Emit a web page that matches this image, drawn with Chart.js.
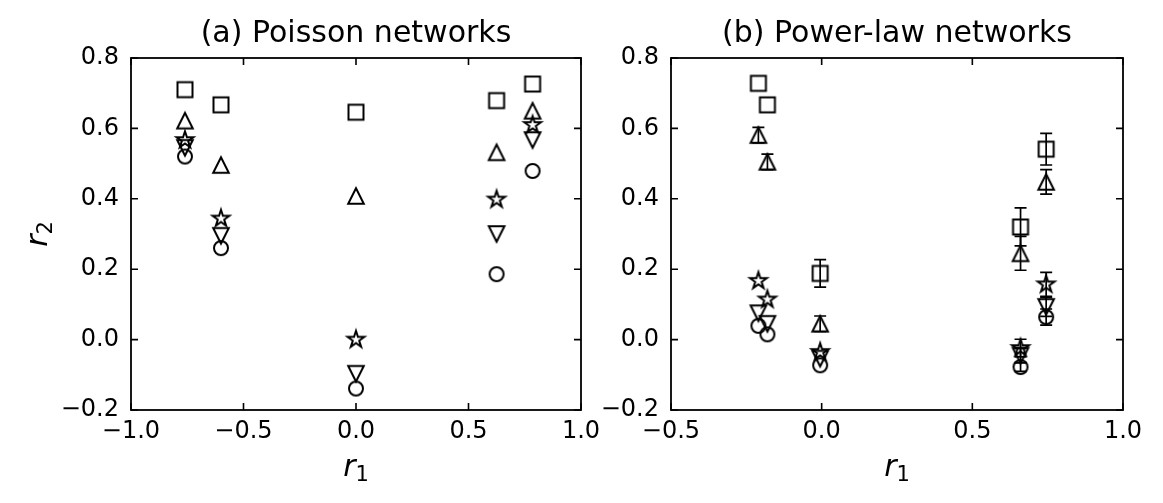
<!DOCTYPE html>
<html>
<head>
<meta charset="utf-8">
<script src="https://cdn.jsdelivr.net/npm/chart.js@4"></script>
<style>
  html, body { margin: 0; padding: 0; background: #fff; }
  body { width: 1163px; height: 503px; position: relative; overflow: hidden; }
  canvas { position: absolute; top: 0; }
  #chartA { left: 0; }
  #chartB { left: 560px; }
</style>
</head>
<body>
<canvas id="chartA" width="611" height="503"></canvas>
<canvas id="chartB" width="593" height="503"></canvas>
<script>
// (a) Poisson networks
const poissonR1 = [-0.76, -0.60, 0.0, 0.625, 0.785];
const poissonSquare = [0.71, 0.667, 0.646, 0.679, 0.726];
const poissonTriUp = [0.622, 0.496, 0.408, 0.532, 0.65];
const poissonStar = [0.567, 0.344, 0.0, 0.398, 0.61];
const poissonTriDown = [0.545, 0.295, -0.097, 0.30, 0.567];
const poissonCircle = [0.52, 0.26, -0.139, 0.186, 0.479];

// (b) Power-law networks
const powerR1 = [-0.21, -0.18, -0.005, 0.66, 0.745];
const powerSquare = [0.728, 0.667, 0.188, 0.32, 0.541];
const powerTriUp = [0.581, 0.505, 0.045, 0.245, 0.448];
const powerStar = [0.167, 0.114, -0.035, -0.024, 0.157];
const powerTriDown = [0.075, 0.045, -0.054, -0.045, 0.093];
const powerCircle = [0.039, 0.015, -0.073, -0.078, 0.064];

// error bar half-widths (power-law panel only)
const powerSquareErr = [0, 0, 0.039, 0.054, 0.045];
const powerTriUpErr = [0.022, 0.022, 0.022, 0.048, 0.035];
const powerStarErr = [0, 0, 0, 0.025, 0.034];
const powerTriDownErr = [0, 0, 0, 0.02, 0.027];
const powerCircleErr = [0, 0, 0, 0.012, 0.023];

const xTicksA = [-1.0, -0.5, 0.0, 0.5, 1.0];
const xTicksB = [-0.5, 0.0, 0.5, 1.0];
const yTicks = [-0.2, 0.0, 0.2, 0.4, 0.6, 0.8];

const FONT = "'DejaVu Sans', sans-serif";

// marker images drawn like matplotlib's unfilled markers
function makeMarker(kind) {
  const c = document.createElement("canvas");
  c.width = 26;
  c.height = 26;
  const ctx = c.getContext("2d");
  ctx.strokeStyle = "#000";
  ctx.lineWidth = 2;
  ctx.lineJoin = "miter";
  ctx.translate(13, 13);
  ctx.beginPath();
  if (kind === "square") {
    ctx.rect(-7.5, -7.5, 15, 15);
  } else if (kind === "circle") {
    ctx.arc(0, 0, 7, 0, Math.PI * 2);
  } else if (kind === "triUp") {
    ctx.moveTo(0, -7.8);
    ctx.lineTo(-7.8, 7.8);
    ctx.lineTo(7.8, 7.8);
    ctx.closePath();
  } else if (kind === "triDown") {
    ctx.moveTo(0, 7.8);
    ctx.lineTo(-7.8, -7.8);
    ctx.lineTo(7.8, -7.8);
    ctx.closePath();
  } else if (kind === "star") {
    const R = 8.8, r = R * 0.381966;
    for (let i = 0; i < 10; i++) {
      const a = -Math.PI / 2 + i * Math.PI / 5;
      const rad = i % 2 === 0 ? R : r;
      const px = rad * Math.cos(a), py = rad * Math.sin(a);
      if (i === 0) ctx.moveTo(px, py); else ctx.lineTo(px, py);
    }
    ctx.closePath();
  }
  ctx.stroke();
  return c;
}

const markers = {
  square: makeMarker("square"),
  triUp: makeMarker("triUp"),
  star: makeMarker("star"),
  triDown: makeMarker("triDown"),
  circle: makeMarker("circle"),
};

function fmtTick(v) {
  if (Math.abs(v) < 1e-9) v = 0;
  return v.toFixed(1).replace("-", "\u2212");
}

function series(xs, ys, kind) {
  return {
    data: xs.map((x, i) => ({ x: x, y: ys[i] })),
    pointStyle: markers[kind],
    pointRadius: 8,
    showLine: false,
  };
}

// box, inward ticks, error bars, titles and axis labels
const decor = {
  id: "decor",
  afterDatasetsDraw(chart, args, opts) {
    const { ctx } = chart;
    const xs = chart.scales.x, ys = chart.scales.y;
    (opts.errors || []).forEach((errs, di) => {
      const pts = chart.data.datasets[di].data;
      ctx.save();
      ctx.strokeStyle = "#000";
      ctx.lineWidth = 1.7;
      pts.forEach((p, i) => {
        const e = errs[i];
        if (!e) return;
        const px = xs.getPixelForValue(p.x);
        const y1 = ys.getPixelForValue(p.y + e);
        const y2 = ys.getPixelForValue(p.y - e);
        ctx.beginPath();
        ctx.moveTo(px, y1);
        ctx.lineTo(px, y2);
        ctx.moveTo(px - 6, y1);
        ctx.lineTo(px + 6, y1);
        ctx.moveTo(px - 6, y2);
        ctx.lineTo(px + 6, y2);
        ctx.stroke();
      });
      ctx.restore();
    });
  },
  afterDraw(chart, args, opts) {
    const { ctx, chartArea: a } = chart;
    const xs = chart.scales.x, ys = chart.scales.y;
    ctx.save();
    ctx.strokeStyle = "#000";
    ctx.lineWidth = 1.8;
    ctx.strokeRect(a.left, a.top, a.right - a.left, a.bottom - a.top);
    ctx.lineWidth = 1.6;
    ctx.beginPath();
    xs.ticks.forEach((t) => {
      const px = xs.getPixelForValue(t.value);
      ctx.moveTo(px, a.bottom);
      ctx.lineTo(px, a.bottom - 7);
      ctx.moveTo(px, a.top);
      ctx.lineTo(px, a.top + 7);
    });
    ys.ticks.forEach((t) => {
      const py = ys.getPixelForValue(t.value);
      ctx.moveTo(a.left, py);
      ctx.lineTo(a.left + 7, py);
      ctx.moveTo(a.right, py);
      ctx.lineTo(a.right - 7, py);
    });
    ctx.stroke();

    ctx.fillStyle = "#000";
    const cx = (a.left + a.right) / 2;
    ctx.font = "30px " + FONT;
    ctx.textAlign = "center";
    ctx.textBaseline = "alphabetic";
    ctx.fillText(opts.title, cx, 42);

    // x label r_1
    drawSub(ctx, cx, 476, "1");
    // y label r_2
    if (opts.yLabel) {
      ctx.save();
      ctx.translate(47, (a.top + a.bottom) / 2);
      ctx.rotate(-Math.PI / 2);
      drawSub(ctx, 0, 0, "2");
      ctx.restore();
    }
    ctx.restore();
  },
};

function drawSub(ctx, cx, baseY, sub) {
  ctx.save();
  ctx.textAlign = "left";
  ctx.textBaseline = "alphabetic";
  ctx.font = "italic 30px " + FONT;
  const w1 = ctx.measureText("r").width;
  ctx.font = "21px " + FONT;
  const w2 = ctx.measureText(sub).width;
  const x0 = cx - (w1 + w2) / 2;
  ctx.font = "italic 30px " + FONT;
  ctx.fillText("r", x0, baseY);
  ctx.font = "21px " + FONT;
  ctx.fillText(sub, x0 + w1, baseY + 5);
  ctx.restore();
}

function makeChart(id, cfg) {
  const ctx = document.getElementById(id).getContext("2d");
  return new Chart(ctx, {
    type: "scatter",
    data: { datasets: cfg.datasets },
    options: {
      responsive: false,
      animation: false,
      events: [],
      layout: { padding: { top: 58, right: 30, bottom: 0, left: 0 } },
      plugins: {
        legend: { display: false },
        tooltip: { enabled: false },
        decor: { title: cfg.title, errors: cfg.errors, yLabel: cfg.yLabel },
      },
      scales: {
        x: {
          type: "linear",
          min: cfg.xTicks[0],
          max: cfg.xTicks[cfg.xTicks.length - 1],
          afterBuildTicks: (s) => { s.ticks = cfg.xTicks.map((v) => ({ value: v })); },
          afterFit: (s) => { s.height = 93; },
          grid: { display: false, drawTicks: false, tickLength: 0 },
          border: { display: false },
          ticks: {
            autoSkip: false,
            maxRotation: 0,
            padding: 7,
            color: "#000",
            font: { family: FONT, size: 24 },
            callback: (v) => fmtTick(v),
          },
        },
        y: {
          type: "linear",
          min: -0.2,
          max: 0.8,
          afterBuildTicks: (s) => { s.ticks = yTicks.map((v) => ({ value: v })); },
          afterFit: (s) => { s.width = cfg.yWidth; },
          grid: { display: false, drawTicks: false, tickLength: 0 },
          border: { display: false },
          ticks: {
            autoSkip: false,
            padding: 12,
            color: "#000",
            font: { family: FONT, size: 24 },
            callback: (v) => fmtTick(v),
          },
        },
      },
    },
    plugins: [decor],
  });
}

makeChart("chartA", {
  title: "(a) Poisson networks",
  xTicks: xTicksA,
  yWidth: 131,
  yLabel: true,
  errors: [],
  datasets: [
    series(poissonR1, poissonSquare, "square"),
    series(poissonR1, poissonTriUp, "triUp"),
    series(poissonR1, poissonStar, "star"),
    series(poissonR1, poissonTriDown, "triDown"),
    series(poissonR1, poissonCircle, "circle"),
  ],
});

makeChart("chartB", {
  title: "(b) Power-law networks",
  xTicks: xTicksB,
  yWidth: 111,
  yLabel: false,
  errors: [powerSquareErr, powerTriUpErr, powerStarErr, powerTriDownErr, powerCircleErr],
  datasets: [
    series(powerR1, powerSquare, "square"),
    series(powerR1, powerTriUp, "triUp"),
    series(powerR1, powerStar, "star"),
    series(powerR1, powerTriDown, "triDown"),
    series(powerR1, powerCircle, "circle"),
  ],
});
</script>
</body>
</html>
